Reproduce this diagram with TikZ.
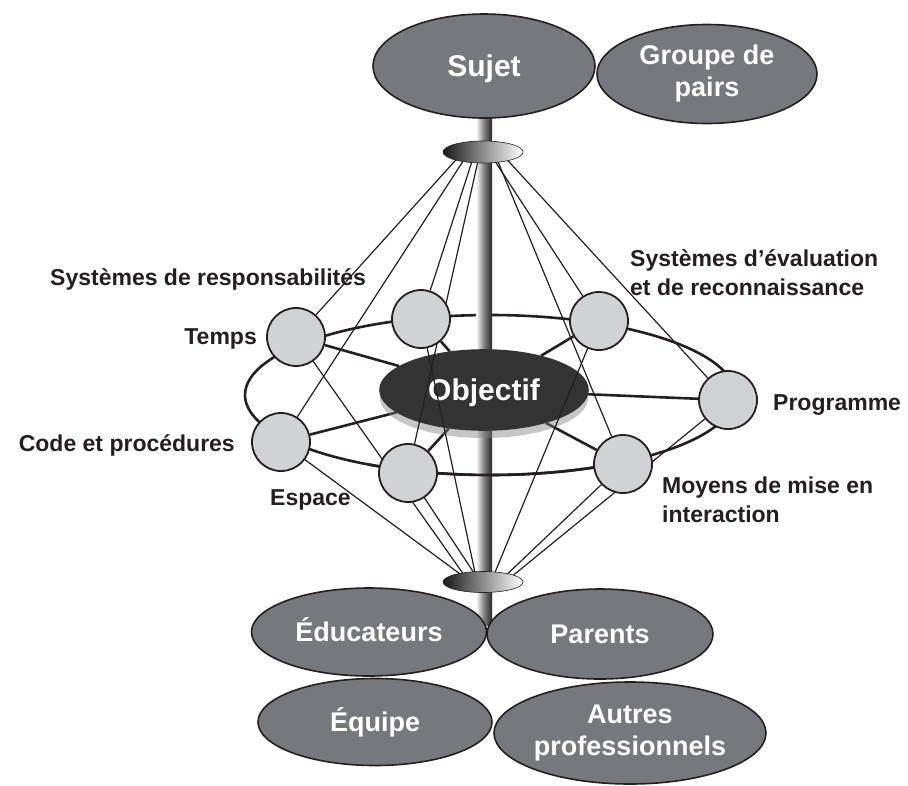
\documentclass[tikz,border=0pt]{standalone}
\usepackage{fontspec}
\setmainfont{Liberation Sans}
\usetikzlibrary{shapes.geometric,shadows,positioning}

\pgfdeclarelayer{back}
\pgfdeclarelayer{pole}
\pgfdeclarelayer{core}
\pgfdeclarelayer{wires}
\pgfsetlayers{back,pole,core,wires,main}

\definecolor{groupgray}{HTML}{77787B}
\definecolor{coregray}{HTML}{333333}
\definecolor{elemgray}{HTML}{D1D2D4}
\definecolor{inkgray}{HTML}{231F20}

\begin{document}
\begin{tikzpicture}[x=1pt, y=-1pt,
  group/.style={ellipse, draw=inkgray, line width=1.6pt, fill=groupgray, text=white,
    inner sep=0pt, align=center, font=\bfseries\fontsize{27}{32}\selectfont},
  oneline/.style={text height=19.5pt, text depth=0pt},
  bigtext/.style={font=\bfseries\fontsize{30}{34}\selectfont, text height=21.5pt, text depth=0pt},
  element/.style={circle, draw=inkgray, line width=1.8pt, fill=elemgray,
    minimum size=58pt, inner sep=0pt},
  disk/.style={ellipse, draw=inkgray, line width=0.6pt, left color=black!90,
    right color=white, minimum width=80pt, minimum height=22pt, inner sep=0pt},
  tag/.style={text=inkgray, inner sep=0pt, align=left,
    font=\bfseries\fontsize{23}{29}\selectfont},
  ring/.style={draw=inkgray, line width=2.6pt},
  wire/.style={draw=inkgray, line width=1.2pt}]
  \useasboundingbox (0,0) rectangle (908,785);

  % groups
  \node[group, bigtext, minimum width=222pt, minimum height=104pt] (sujet) at (484,66) {Sujet};
  \node[group, minimum width=220pt, minimum height=99pt] (pairs) at (707,74) {Groupe de\\pairs};
  \node[group, oneline, minimum width=235pt, minimum height=88pt] (educ) at (369,632) {Éducateurs};
  \node[group, oneline, minimum width=226pt, minimum height=90pt] (parents) at (600,634) {Parents};
  \node[group, oneline, minimum width=234pt, minimum height=87pt] (equipe) at (375,722) {Équipe};
  \node[group, minimum width=272pt, minimum height=102pt] (autres) at (630,733) {Autres\\professionnels};

  % objective
  \begin{pgfonlayer}{core}
    \node[group, bigtext, draw=coregray, fill=coregray, minimum width=208pt, minimum height=80pt,
      drop shadow={shadow xshift=0pt, shadow yshift=-8pt, opacity=0.45}] (obj) at (484,390) {Objectif};
  \end{pgfonlayer}

  % disks on the pole
  \node[disk] (topdisk) at (483,152) {};
  \node[disk, minimum height=21pt] (botdisk) at (483,582) {};

  % elements
  \coordinate (ringc) at (490,395);
  \node[element] (temps) at (296,337) {};
  \node[element] (resp) at (421,319) {};
  \node[element] (eval) at (599,321) {};
  \node[element] (prog) at (728,400) {};
  \node[element] (moyens) at (623,464) {};
  \node[element] (espace) at (408,473) {};
  \node[element] (code) at (281,442) {};

  % labels
  \node[tag, anchor=base west] (resplabel) at (50,285) {Systèmes de responsabilités};
  \node[tag, anchor=base east] (tempslabel) at (257,344) {Temps};
  \node[tag, anchor=base east] (codelabel) at (235,451) {Code et procédures};
  \node[tag, anchor=base west] (espacelabel) at (270,505) {Espace};
  \node[tag, anchor=base west] (evallabel) at (630,295) {Systèmes d’évaluation\\et de reconnaissance};
  \node[tag, anchor=base west] (proglabel) at (773,410) {Programme};
  \node[tag, anchor=base west] (moyenslabel) at (662,522) {Moyens de mise en\\interaction};

  % ring and spokes
  \begin{pgfonlayer}{back}
    \draw[ring] (ringc) ellipse [x radius=245, y radius=80];
    \foreach \elem in {temps, resp, eval, prog, moyens, espace, code}
      \draw[ring] (\elem) -- (obj);
  \end{pgfonlayer}

  % pole
  \begin{pgfonlayer}{pole}
    \shade[left color=white, right color=black!85, middle color=black!50] (476,105) rectangle (492,625);
  \end{pgfonlayer}

  % wires
  \begin{pgfonlayer}{wires}
    \draw[ring] (ringc) ++(60:245 and 80) arc [start angle=60, end angle=120, x radius=245, y radius=80];
    \foreach \elem/\dx in {temps/-20, code/-14, resp/-8, espace/-3, eval/6, moyens/11, prog/17}
      \draw[wire] ([xshift=\dx pt]topdisk.center) -- (\elem);
    \foreach \elem/\dx in {temps/-14, code/-12, resp/-6, espace/-3, eval/8, moyens/16, prog/22}
      \draw[wire] ([xshift=\dx pt]botdisk.center) -- (\elem);
  \end{pgfonlayer}
\end{tikzpicture}
\end{document}
